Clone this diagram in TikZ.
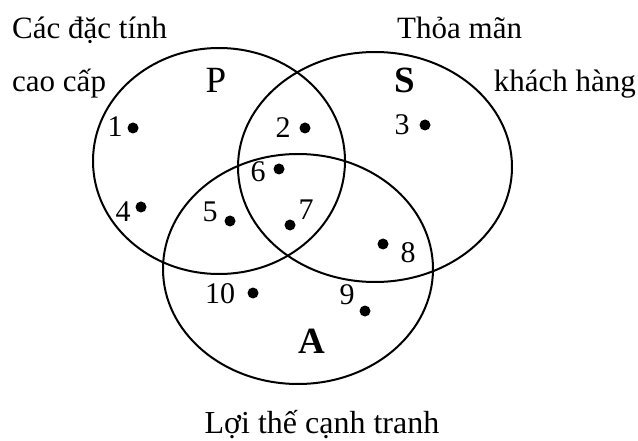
\documentclass[tikz,border=0pt]{standalone}
\usepackage{fontspec}
\setmainfont{Liberation Serif}
\begin{document}
\begin{tikzpicture}[x=1pt,y=-1pt,
  ring/.style={line width=2pt},
  lbl/.style={inner sep=0pt,font=\fontsize{31}{36}\selectfont},
  num/.style={inner sep=0pt,font=\fontsize{30}{34}\selectfont},
  big/.style={inner sep=0pt,anchor=base,font=\fontsize{37}{42}\selectfont},
  pt/.style={circle,fill=black,inner sep=0pt,minimum size=11pt}]
\useasboundingbox (0,0) rectangle (638,441);
% ellipses
\draw[ring] (219,161) ellipse [x radius=126pt, y radius=113pt];
\draw[ring] (375,167) ellipse [x radius=137pt, y radius=115pt];
\draw[ring] (298,269) ellipse [x radius=135pt, y radius=115pt];
% outer labels
\node[lbl,anchor=base west] (t1) at (12,39) {Các đặc tính};
\node[lbl,anchor=base west] (t2) at (12,92) {cao cấp};
\node[lbl,anchor=base west] (t3) at (397,39) {Thỏa mãn};
\node[lbl,anchor=base east] (t4) at (636,92) {khách hàng};
\node[lbl,anchor=base,font=\fontsize{32}{36}\selectfont] (t5) at (322,433) {Lợi thế cạnh tranh};
% set letters
\node[big] (P) at (216,93) {P};
\node[big] (S) at (405,93) {\bfseries S};
\node[big] (A) at (312,353) {\bfseries A};
% points
\node[num] (n1) at (115,127) {1};   \node[pt] (d1) at (133,128) {};
\node[num] (n2) at (283,128) {2};   \node[pt] (d2) at (305,128) {};
\node[num] (n3) at (402,125) {3};   \node[pt] (d3) at (425,125) {};
\node[num] (n4) at (123,212) {4};   \node[pt] (d4) at (141,207) {};
\node[num] (n5) at (210,212) {5};   \node[pt] (d5) at (230,221) {};
\node[num] (n6) at (258,172) {6};   \node[pt] (d6) at (279,169) {};
\node[num] (n7) at (306,210) {7};   \node[pt] (d7) at (290,225) {};
\node[num] (n8) at (408,253) {8};   \node[pt] (d8) at (383,244) {};
\node[num] (n9) at (347,295) {9};   \node[pt] (d9) at (365,311) {};
\node[num] (n10) at (220,294) {10}; \node[pt] (d10) at (253,293) {};
\end{tikzpicture}
\end{document}
